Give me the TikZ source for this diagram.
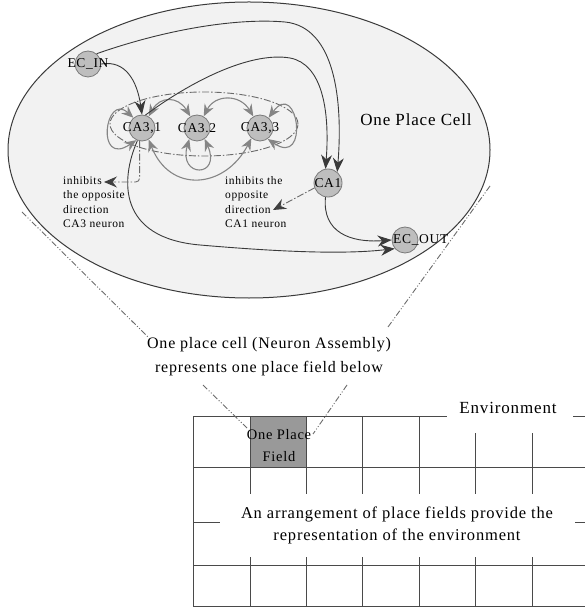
\documentclass[tikz,border=0pt]{standalone}
\usepackage{fontspec}
\setmainfont{Liberation Serif}[LetterSpace=5]
\usetikzlibrary{arrows.meta}
\definecolor{cellbg}{HTML}{F2F2F2}
\definecolor{edgeline}{HTML}{3A3A3A}
\definecolor{nfill}{HTML}{BEBEBE}
\definecolor{ndraw}{HTML}{7A7A7A}
\definecolor{garrow}{HTML}{858585}
\definecolor{dashc}{HTML}{6A6A6A}
\definecolor{tipc}{HTML}{404040}
\definecolor{gridc}{HTML}{4A4A4A}
\definecolor{fieldc}{HTML}{999999}
\begin{document}
\begin{tikzpicture}[x=1pt,y=-1pt,
  neuron/.style={circle,draw=ndraw,fill=nfill,line width=0.8pt,minimum size=26pt,inner sep=0pt},
  nlabel/.style={font=\fontsize{13.5}{15}\selectfont,inner sep=0pt},
  blk/.style={draw=edgeline,line width=0.9pt,-{Stealth[length=14pt,width=11pt,inset=4.5pt]}},
  gry/.style={draw=garrow,line width=1.1pt,{Stealth[length=12pt,width=10pt,inset=4pt]}-{Stealth[length=12pt,width=10pt,inset=4pt]}},
  dashdot/.style={draw=dashc,line width=0.9pt,dash pattern=on 7pt off 2pt on 1.5pt off 2pt},
  dashtip/.style={dashdot,-{Stealth[length=13pt,width=11pt,inset=4.5pt,color=tipc]}},
  guide/.style={draw=dashc,line width=0.9pt,dash pattern=on 6pt off 2pt on 1pt off 2pt on 1pt off 2pt},
  gridline/.style={draw=gridc,line width=1pt},
  note/.style={font=\fontsize{11.5}{14.5}\selectfont,align=left,inner sep=0pt,anchor=north west},
  bigtext/.style={font=\fontsize{16}{22}\selectfont,inner sep=0pt,anchor=base},
]
\useasboundingbox (0,0) rectangle (585,609);

% place cell ellipse
\draw[draw=edgeline,fill=cellbg,line width=1pt] (249,150) ellipse [x radius=241pt, y radius=148pt];
\node[font=\fontsize{17}{18}\selectfont,inner sep=0pt] (cellname) at (416,120) {One Place Cell};

% dash-dot ellipse round CA3 neurons
\draw[dashdot] (204,124) ellipse [x radius=94pt, y radius=32pt];

% neurons
\node[neuron] (ecin) at (88,64) {};
\node[neuron] (ca31) at (142,128) {};
\node[neuron] (ca32) at (197,128) {};
\node[neuron] (ca33) at (260,128) {};
\node[neuron,minimum size=28pt] (ca1) at (328,183) {};
\node[neuron] (ecout) at (405,240) {};

% gray recurrent connections
\draw[gry] (ca31.60) .. controls (160,96) and (178,96) .. (ca32.120);
\draw[gry] (ca32.60) .. controls (215,94) and (240,94) .. (ca33.120);
\draw[gry] (ca31.130) .. controls (105,92) and (95,168) .. (ca31.-115);
\draw[gry] (ca33.50) .. controls (298,78) and (310,168) .. (ca33.-55);
\draw[gry] (ca32.-125) .. controls (178,178) and (222,178) .. (ca32.-55);
\draw[gry] (ca31.-60) .. controls (170,194) and (225,189) .. (ca33.-130);

% black connections
\draw[blk] (ecin.east) .. controls (125,60) and (137,80) .. (ca31.north);
\draw[blk] (ecin.50) .. controls (170,28) and (240,18) .. (285,22) .. controls (335,27) and (343,100) .. (ca1.50);
\draw[blk] (ca31.75) .. controls (200,75) and (255,52) .. (290,58) .. controls (322,64) and (330,110) .. (ca1.100);
\draw[blk] (ca31.-110) .. controls (120,180) and (118,238) .. (200,245) .. controls (270,251) and (340,255) .. (ecout.-140);
\draw[blk] (ca1.-100) .. controls (322,232) and (350,243) .. (ecout.180);

% inhibition notes
\coordinate (inhA) at (104,182);
\coordinate (inhB) at (273,210);
\draw[dashtip,rounded corners=4pt] (ca31.-100) |- (inhA);
\draw[dashtip] (ca1.-160) -- (inhB);
\node[note] (noteA) at (63,176) {inhibits\\the opposite\\direction\\CA3 neuron};
\node[note] (noteB) at (225,176) {inhibits the\\opposite\\direction\\CA1 neuron};

% neuron labels
\node[nlabel] at (ecin) {EC\_IN};
\node[nlabel] at (ca31) {CA3,1};
\node[nlabel] at (ca32) {CA3.2};
\node[nlabel] at (ca33) {CA3,3};
\node[nlabel] at (ca1) {CA1};
\node[nlabel,anchor=west] at ([xshift=-12pt]ecout.center) {EC\_OUT};

% explanation text
\node[bigtext] (expl1) at (269,348) {One place cell (Neuron Assembly)};
\node[bigtext] (expl2) at (269,372) {represents one place field below};

% guide lines
\coordinate (gA1) at (22,212);
\coordinate (gA2) at (148,337);
\coordinate (gB1) at (490,186);
\coordinate (gB2) at (388,327);
\coordinate (gC1) at (203,385);
\coordinate (gC2) at (247,428);
\coordinate (gD1) at (347,385);
\coordinate (gD2) at (313,434);
\draw[guide] (gA1) -- (gA2);
\draw[guide] (gB1) -- (gB2);

% environment grid
\foreach \x in {250,306,362,419,475,532} \draw[gridline] (\x,416) -- (\x,606);
\foreach \y in {416,467,522,565,606} \draw[gridline] (193,\y) -- (585,\y);
\draw[gridline] (193,416) -- (193,606);
\filldraw[fill=fieldc,draw=gridc,line width=1pt] (250,416) rectangle (306,467);
\fill[white] (447,396) rectangle (573,433);
\fill[white] (220,494) rectangle (575,557);
\draw[guide] (gC1) -- (gC2);
\draw[guide] (gD1) -- (gD2);

\node[font=\fontsize{17}{18}\selectfont,inner sep=0pt,anchor=base] (envname) at (508,413) {Environment};
\node[font=\fontsize{14.5}{16}\selectfont,inner sep=0pt,anchor=base] (field1) at (279,439) {One Place};
\node[font=\fontsize{14.5}{16}\selectfont,inner sep=0pt,anchor=base] (field2) at (279,461) {Field};
\node[font=\fontsize{16.5}{22}\selectfont,inner sep=0pt,anchor=base] (arr1) at (397,518) {An arrangement of place fields provide the};
\node[font=\fontsize{16.5}{22}\selectfont,inner sep=0pt,anchor=base] (arr2) at (397,540) {representation of the environment};
\end{tikzpicture}
\end{document}
